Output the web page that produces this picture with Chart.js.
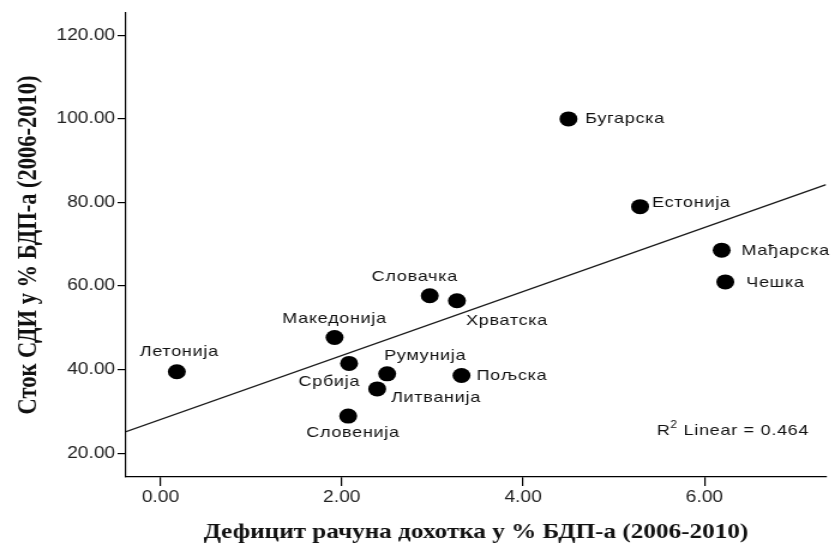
<!DOCTYPE html>
<html>
<head>
<meta charset="utf-8">
<script src="https://cdn.jsdelivr.net/npm/chart.js@4/dist/chart.umd.min.js"></script>
<style>
  html, body { margin: 0; padding: 0; background: #fff; overflow: hidden; }
  #c { display: block; width: 835px; height: 548px; }
</style>
</head>
<body>
<!-- drawn on a narrower canvas and widened by CSS, which gives the wide, flattened look of the figure -->
<canvas id="c" width="696" height="548" style="width:835px;height:548px"></canvas>
<script>
// Countries, income-account deficit (% of GDP) and FDI stock (% of GDP), 2006-2010 averages
const countries = ['Летонија', 'Македонија', 'Србија', 'Словенија', 'Литванија', 'Румунија',
                   'Словачка', 'Хрватска', 'Пољска', 'Бугарска', 'Естонија', 'Мађарска', 'Чешка'];
const deficit  = [0.18, 1.92, 2.08, 2.07, 2.39, 2.50, 2.97, 3.27, 3.32, 4.50, 5.29, 6.19, 6.23];
const fdiStock = [39.5, 47.7, 41.5, 28.9, 35.4, 39.0, 57.7, 56.5, 38.6, 100.0, 79.0, 68.6, 61.0];

const xTickValues = [0, 2, 4, 6];
const yTickValues = [20, 40, 60, 80, 100, 120];
const xTitle = 'Дефицит рачуна дохотка у % БДП-а (2006-2010)';
const yTitle = 'Сток СДИ у % БДП-а (2006-2010)';

// axis ranges
const X_MIN = -0.381, X_MAX = 7.341;
const Y_MIN = 14.33,  Y_MAX = 125.33;

// where each country name sits relative to its marker (canvas px)
const labelPlacement = {
  'Летонија':   { align: 'center', dx: 2,     dy: -20 },
  'Македонија': { align: 'center', dx: 0,     dy: -18.5 },
  'Србија':     { align: 'center', dx: -16.5, dy: 18 },
  'Словенија':  { align: 'center', dx: 4,     dy: 17 },
  'Литванија':  { align: 'left',   dx: 11.5,  dy: 9 },
  'Румунија':   { align: 'left',   dx: -2.5,  dy: -18 },
  'Словачка':   { align: 'center', dx: -12.5, dy: -19 },
  'Хрватска':   { align: 'left',   dx: 7.5,   dy: 20 },
  'Пољска':     { align: 'left',   dx: 12.5,  dy: 0 },
  'Бугарска':   { align: 'left',   dx: 14,    dy: 0 },
  'Естонија':   { align: 'left',   dx: 10,    dy: -4 },
  'Мађарска':   { align: 'left',   dx: 16.5,  dy: 1 },
  'Чешка':      { align: 'left',   dx: 17.5,  dy: 1 }
};

// ordinary least squares fit of the stock on the deficit
function linearFit(xs, ys) {
  const n = xs.length;
  const mx = xs.reduce((a, b) => a + b, 0) / n;
  const my = ys.reduce((a, b) => a + b, 0) / n;
  let sxy = 0, sxx = 0, syy = 0;
  for (let i = 0; i < n; i++) {
    const dx = xs[i] - mx, dy = ys[i] - my;
    sxy += dx * dy; sxx += dx * dx; syy += dy * dy;
  }
  const slope = sxy / sxx;
  return { slope, intercept: my - slope * mx, r2: (sxy * sxy) / (sxx * syy) };
}
const fit = linearFit(deficit, fdiStock);
const fitAt = x => fit.intercept + fit.slope * x;

const LABEL_FONT = '15px "Liberation Sans", Arial, sans-serif';

const pointLabels = {
  id: 'pointLabels',
  afterDatasetsDraw(chart) {
    const { ctx, chartArea } = chart;
    const xs = chart.scales.x, ys = chart.scales.y;
    ctx.save();
    ctx.font = LABEL_FONT;
    ctx.letterSpacing = '0.6px';
    ctx.fillStyle = '#111';
    ctx.textBaseline = 'middle';
    countries.forEach((name, i) => {
      const p = labelPlacement[name];
      ctx.textAlign = p.align;
      ctx.fillText(name,
        xs.getPixelForValue(deficit[i]) + p.dx,
        ys.getPixelForValue(fdiStock[i]) + p.dy);
    });

    // R² note, right-aligned inside the plot
    const rest = ' Linear = ' + fit.r2.toFixed(3);
    const supFont = '10px "Liberation Sans", Arial, sans-serif';
    ctx.textAlign = 'left';
    const wR = ctx.measureText('R').width;
    const wRest = ctx.measureText(rest).width;
    ctx.font = supFont;
    const wSup = ctx.measureText('2').width;
    const right = chartArea.right - 14;
    const y = chartArea.bottom - 46;
    let x = right - (wR + wSup + wRest);
    ctx.font = LABEL_FONT;
    ctx.fillText('R', x, y);
    x += wR;
    ctx.font = supFont;
    ctx.fillText('2', x, y - 6);
    x += wSup;
    ctx.font = LABEL_FONT;
    ctx.fillText(rest, x, y);
    ctx.restore();
  }
};

const tickFont = { family: '"Liberation Sans", Arial, sans-serif', size: 16 };

new Chart(document.getElementById('c'), {
  type: 'scatter',
  data: {
    datasets: [
      {
        type: 'scatter',
        data: countries.map((c, i) => ({ x: deficit[i], y: fdiStock[i] })),
        backgroundColor: '#000',
        borderColor: '#000',
        borderWidth: 0,
        pointRadius: 7.5,
        pointHoverRadius: 7.5,
        order: 1
      },
      {
        type: 'line',
        data: [{ x: X_MIN, y: fitAt(X_MIN) }, { x: X_MAX, y: fitAt(X_MAX) }],
        borderColor: '#1a1a1a',
        borderWidth: 1.4,
        pointRadius: 0,
        fill: false,
        order: 2
      }
    ]
  },
  options: {
    responsive: false,
    devicePixelRatio: 1,
    animation: false,
    layout: { padding: { top: 13, right: 5, left: 0, bottom: 0 } },
    plugins: { legend: { display: false }, tooltip: { enabled: false } },
    scales: {
      x: {
        type: 'linear',
        min: X_MIN,
        max: X_MAX,
        afterBuildTicks: s => { s.ticks = xTickValues.map(v => ({ value: v })); },
        afterFit: s => { s.height = 71; },
        ticks: { callback: v => Number(v).toFixed(2), font: tickFont, color: '#222',
                 padding: 2, maxRotation: 0, autoSkip: false },
        grid: { drawOnChartArea: false, drawTicks: true, tickLength: 9, color: '#000', lineWidth: 1.2 },
        border: { display: true, color: '#000', width: 1.2 },
        title: { display: true, text: xTitle, color: '#111',
                 font: { family: '"Liberation Serif", "Times New Roman", serif', size: 21, weight: 'bold' },
                 padding: { top: 0, bottom: 3 } }
      },
      y: {
        type: 'linear',
        min: Y_MIN,
        max: Y_MAX,
        afterBuildTicks: s => { s.ticks = yTickValues.map(v => ({ value: v })); },
        afterFit: s => { s.width = 105; },
        ticks: { callback: v => Number(v).toFixed(2), font: tickFont, color: '#222', padding: 2 },
        grid: { drawOnChartArea: false, drawTicks: true, tickLength: 7, color: '#000', lineWidth: 1.2 },
        border: { display: true, color: '#000', width: 1.2 },
        title: { display: true, text: yTitle, color: '#111',
                 font: { family: '"Liberation Serif", "Times New Roman", serif', size: 22.5, weight: 'bold' },
                 padding: { top: 11, bottom: 0 } }
      }
    }
  },
  plugins: [pointLabels]
});
</script>
</body>
</html>
